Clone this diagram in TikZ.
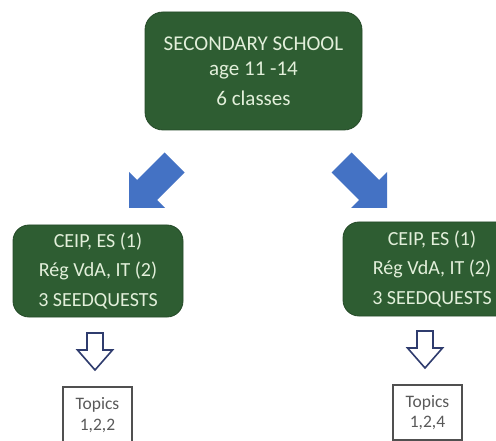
\documentclass[tikz,border=0pt]{standalone}
\usepackage{fontspec}
\setmainfont{Carlito}
\definecolor{boxgreen}{HTML}{2E5D32}
\definecolor{boxtext}{HTML}{E2EFDA}
\definecolor{arrowblue}{HTML}{4472C4}
\definecolor{hollowline}{HTML}{2F3C6E}
\definecolor{topicgray}{HTML}{595959}
\tikzset{
  greenbox/.style={fill=boxgreen, draw=boxgreen!80!black, line width=0.8pt, rounded corners=16pt,
    text=boxtext, align=center, inner sep=0pt, outer sep=0pt},
  topicbox/.style={draw=topicgray!90!black, line width=1.4pt, fill=white, text=topicgray,
    align=center, inner sep=0pt, minimum width=69pt, font=\fontsize{17.5}{20.5}\selectfont},
  bluearrow/.pic={\fill[arrowblue] (0,0) -- (0,-36) -- (8,-28) -- (35.5,-55.5) -- (55.5,-35.5) -- (28,-8) -- (36,0) -- cycle;},
  hollowarrow/.pic={\draw[hollowline, fill=white, line width=1.6pt, line join=miter]
    (-8,0) -- (8,0) -- (8,17) -- (17.5,17) -- (0,37) -- (-17.5,17) -- (-8,17) -- cycle;}
}
\begin{document}
\begin{tikzpicture}[x=1pt, y=-1pt]
\clip (0,0) rectangle (496,441);
\fill[white] (0,0) rectangle (496,441);

\node[greenbox, minimum width=217pt, minimum height=118pt, rounded corners=18pt,
  font=\fontsize{21}{25}\selectfont] (top) at (253.5,71)
  {SECONDARY SCHOOL\\age 11 -14\\[5pt]6 classes};

\node[greenbox, minimum width=170pt, minimum height=92pt,
  font=\fontsize{20}{29.5}\selectfont] (left) at (98,271)
  {CEIP, ES (1)\\Rég VdA, IT (2)\\3 SEEDQUESTS};

\node[greenbox, minimum width=178pt, minimum height=94pt,
  font=\fontsize{20}{29.5}\selectfont] (right) at (432,269)
  {CEIP, ES (1)\\Rég VdA, IT (2)\\3 SEEDQUESTS};

\coordinate (bl) at (129,208);
\coordinate (br) at (387,208);
\pic at (bl) {bluearrow};
\pic[xscale=-1] at (br) {bluearrow};

\coordinate (hl) at (95,333);
\coordinate (hr) at (425,331);
\pic at (hl) {hollowarrow};
\pic at (hr) {hollowarrow};

\node[topicbox, minimum height=56pt] (tl) at (97.5,415) {Topics\\1,2,2};
\node[topicbox, minimum height=55pt] (tr) at (427.5,412.5) {Topics\\1,2,4};
\end{tikzpicture}
\end{document}
